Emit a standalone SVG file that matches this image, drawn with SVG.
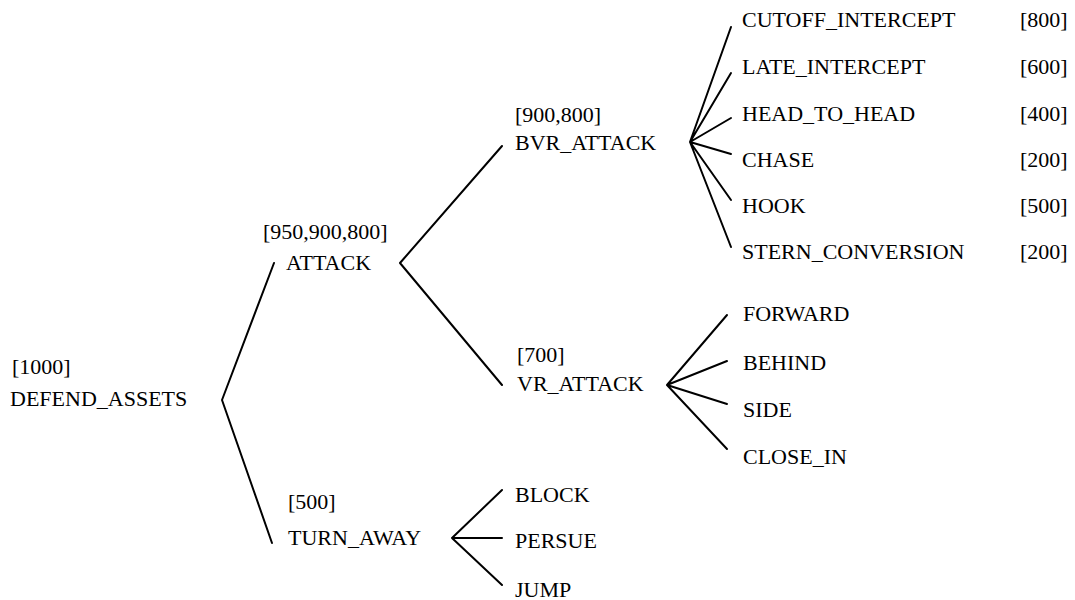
<svg xmlns="http://www.w3.org/2000/svg" width="1075" height="600" viewBox="0 0 1075 600">
  <style>
    text { font-family: "Liberation Serif", "Times New Roman", serif; font-size: 22px; fill: #000; }
    .edge { stroke: #000; stroke-width: 2; fill: none; stroke-linecap: round; stroke-linejoin: round; }
  </style>
  <rect width="1075" height="600" fill="#fff"/>

  <!-- branch lines -->
  <g id="connectors">
    <polyline class="edge" points="274,263 222,400 272,543"/>
    <polyline class="edge" points="502,146 400,263 502,385"/>
    <path class="edge" d="M731,27 L690,142 M731,73 L690,142 M731,118 L690,142 M731,154 L690,142 M731,200 L690,142 M731,247 L690,142"/>
    <path class="edge" d="M727,315 L667,385 M727,361 L667,385 M727,404 L667,385 M727,449 L667,385"/>
    <path class="edge" d="M502,490 L452,538 M502,538 L452,538 M502,585 L452,538"/>
  </g>

  <g id="defend_assets">
    <text x="12" y="374">[1000]</text>
    <text x="10" y="406">DEFEND_ASSETS</text>
  </g>
  <g id="attack">
    <text x="263" y="239">[950,900,800]</text>
    <text x="286" y="270">ATTACK</text>
  </g>
  <g id="turn_away">
    <text x="288" y="509">[500]</text>
    <text x="288" y="545">TURN_AWAY</text>
  </g>
  <g id="bvr_attack">
    <text x="515" y="122">[900,800]</text>
    <text x="515" y="150">BVR_ATTACK</text>
  </g>
  <g id="vr_attack">
    <text x="517" y="362">[700]</text>
    <text x="517" y="391">VR_ATTACK</text>
  </g>

  <g id="cutoff_intercept">
    <text x="742" y="27">CUTOFF_INTERCEPT</text>
    <text x="1020" y="27">[800]</text>
  </g>
  <g id="late_intercept">
    <text x="742" y="74">LATE_INTERCEPT</text>
    <text x="1020" y="74">[600]</text>
  </g>
  <g id="head_to_head">
    <text x="742" y="121">HEAD_TO_HEAD</text>
    <text x="1020" y="121">[400]</text>
  </g>
  <g id="chase">
    <text x="742" y="167">CHASE</text>
    <text x="1020" y="167">[200]</text>
  </g>
  <g id="hook">
    <text x="742" y="213">HOOK</text>
    <text x="1020" y="213">[500]</text>
  </g>
  <g id="stern_conversion">
    <text x="742" y="259">STERN_CONVERSION</text>
    <text x="1020" y="259">[200]</text>
  </g>

  <g id="forward"><text x="743" y="321">FORWARD</text></g>
  <g id="behind"><text x="743" y="370">BEHIND</text></g>
  <g id="side"><text x="743" y="417">SIDE</text></g>
  <g id="close_in"><text x="743" y="464">CLOSE_IN</text></g>

  <g id="block"><text x="515" y="502">BLOCK</text></g>
  <g id="persue"><text x="515" y="548">PERSUE</text></g>
  <g id="jump"><text x="515" y="597">JUMP</text></g>
</svg>
